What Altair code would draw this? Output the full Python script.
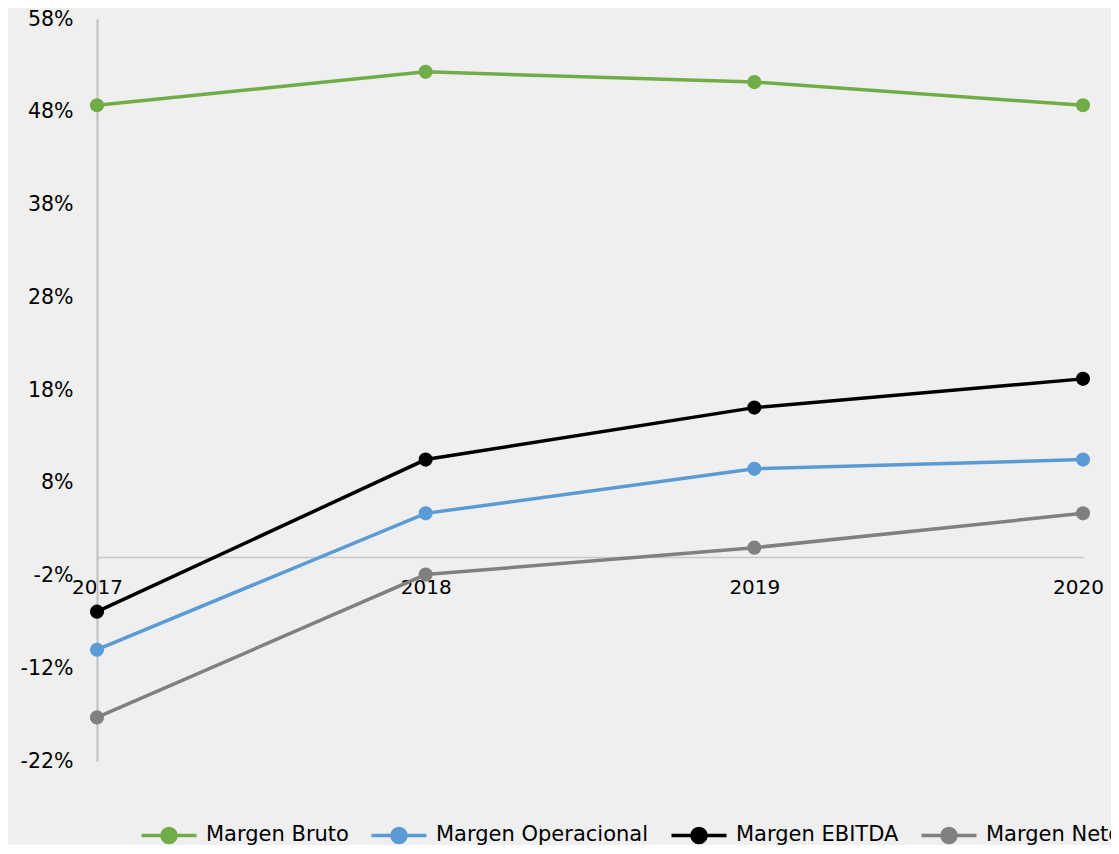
import altair as alt
import pandas as pd

years = ["2017", "2018", "2019", "2020"]
series_names = ["Margen Bruto", "Margen Operacional", "Margen EBITDA", "Margen Neto"]
margen_bruto = [48.7, 52.3, 51.2, 48.7]
margen_operacional = [-10.0, 4.7, 9.5, 10.5]
margen_ebitda = [-5.9, 10.5, 16.1, 19.2]
margen_neto = [-17.3, -1.9, 1.0, 4.7]
colors = ["#70ad47", "#5b9bd5", "#000000", "#808080"]
y_ticks = [-22, -12, -2, 8, 18, 28, 38, 48, 58]

rows = []
for name, vals in zip(series_names, [margen_bruto, margen_operacional, margen_ebitda, margen_neto]):
    for yr, v in zip(years, vals):
        rows.append({"year": yr, "serie": name, "value": v})
df = pd.DataFrame(rows)

FONT = "DejaVu Sans"
sym_path = "M-2.5,0L2.5,0M0.64,0A0.64,0.64,0,1,1,-0.64,0A0.64,0.64,0,1,1,0.64,0Z"

x = alt.X("year:O", title=None, scale=alt.Scale(paddingOuter=0, padding=0),
          axis=alt.Axis(labelAngle=0, offset=-204, ticks=False, tickSize=0, labelPadding=20,
                        labelOffset={"condition": {"test": "datum.value == '2020'", "value": -5}, "value": 0},
                        domainColor="#c8c8c8", domainWidth=1.5, labelFont=FONT, labelFontSize=20,
                        labelColor="#000000", grid=False))
y = alt.Y("value:Q", title=None,
          scale=alt.Scale(domain=[-22, 58], nice=False, zero=False),
          axis=alt.Axis(values=y_ticks, labelExpr="datum.value + '%'", ticks=False, tickSize=0,
                        labelPadding=24, domainColor="#bfbfbf", domainWidth=2, grid=False,
                        labelFont=FONT, labelFontSize=20.5, labelColor="#000000"))

legend = alt.Legend(orient="none", direction="horizontal", legendX=59, legendY=803,
                    symbolType=sym_path, symbolSize=484, symbolStrokeWidth=3.5,
                    labelFont=FONT, labelFontSize=21, labelColor="#000000",
                    labelOffset=24, columnPadding=15, labelLimit=400, title=None)
scale = alt.Scale(domain=series_names, range=colors)

base = alt.Chart(df).encode(x=x, y=y, order=alt.Order("year:O"))
lines = base.mark_line(strokeWidth=3.5).encode(
    stroke=alt.Stroke("serie:N", title=None, scale=scale, legend=legend))
points = base.mark_point(filled=True, size=200, opacity=1).encode(
    fill=alt.Fill("serie:N", title=None, scale=scale, legend=legend))

chart = alt.layer(lines, points).properties(
    width=986, height=742,
    background="#efefef",
    padding={"left": 89, "top": 11, "right": 28, "bottom": 84},
    autosize=alt.AutoSizeParams(type="none"),
).configure_view(strokeWidth=0)

chart.save("out.html", embed_options={"renderer": "svg", "actions": False})
